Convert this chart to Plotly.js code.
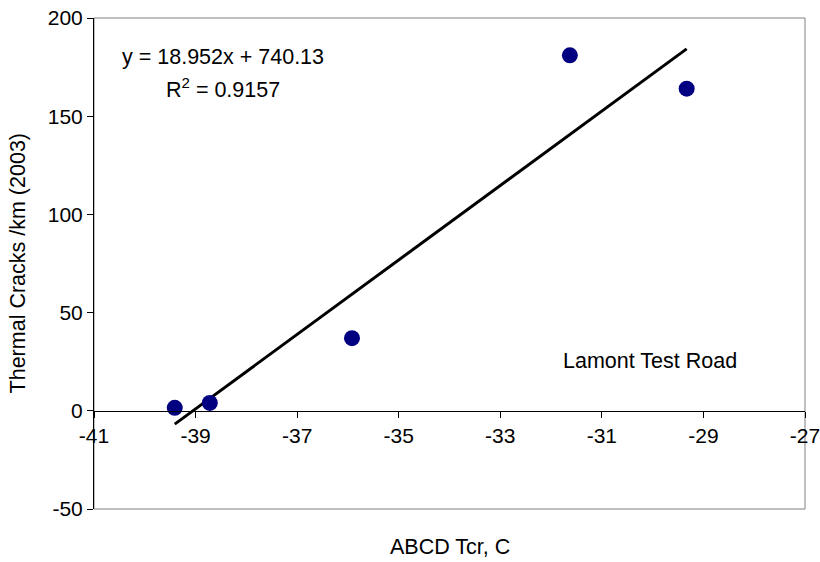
<!DOCTYPE html>
<html>
<head>
<meta charset="utf-8">
<script src="https://cdn.plot.ly/plotly-3.0.1.min.js"></script>
<style>
  html, body { margin: 0; padding: 0; background: #fff; }
  #chart { width: 820px; height: 562px; }
</style>
</head>
<body>
<div id="chart"></div>
<script>
// Measured sections: critical cracking temperature vs. thermal cracks per km
const tcrValues = [-39.41, -38.72, -35.92, -31.63, -29.33];
const cracksPerKm = [1.5, 4, 37, 181, 164];

// Linear fit reported on the chart
const fitSlope = 18.952;
const fitIntercept = 740.13;
const fitR2 = 0.9157;

const xTickValues = [-41, -39, -37, -35, -33, -31, -29, -27];
const yTickValues = [-50, 0, 50, 100, 150, 200];

const xMin = Math.min(...tcrValues);
const xMax = Math.max(...tcrValues);
const fitX = [xMin, xMax];
const fitY = fitX.map(x => fitSlope * x + fitIntercept);

const fontFamily = 'Arial, "Liberation Sans", sans-serif';
const labelSize = 21.5;
const tickSize = 21;

const traces = [
  {
    x: fitX,
    y: fitY,
    mode: 'lines',
    line: { color: '#000000', width: 3 },
    hoverinfo: 'skip',
    showlegend: false
  },
  {
    x: tcrValues,
    y: cracksPerKm,
    mode: 'markers',
    marker: { color: '#000080', size: 16 },
    showlegend: false
  }
];

const layout = {
  width: 820,
  height: 562,
  margin: { l: 94, r: 15, t: 18, b: 53 },
  paper_bgcolor: '#ffffff',
  plot_bgcolor: '#ffffff',
  font: { family: fontFamily, size: labelSize, color: '#000000' },
  showlegend: false,
  xaxis: {
    range: [-41, -27],
    tickvals: xTickValues,
    ticktext: xTickValues.map(String),
    ticks: 'outside',
    ticklen: 6,
    tickcolor: '#000000',
    showline: true,
    linecolor: '#000000',
    linewidth: 1,
    showgrid: false,
    zeroline: false,
    anchor: 'free',
    position: 0.2,
    ticklabeloverflow: 'allow',
    automargin: false,
    tickfont: { size: tickSize }
  },
  yaxis: {
    range: [-50, 200],
    domain: [0, 1],
    tickvals: yTickValues,
    ticktext: yTickValues.map(String),
    ticks: 'outside',
    ticklen: 6,
    tickcolor: '#000000',
    showline: true,
    linecolor: '#000000',
    linewidth: 1,
    showgrid: false,
    zeroline: false,
    ticklabeloverflow: 'allow',
    automargin: false,
    tickfont: { size: tickSize }
  },
  shapes: [
    {
      type: 'rect', xref: 'paper', yref: 'paper',
      x0: 0, x1: 1, y0: 0, y1: 1,
      line: { color: '#808080', width: 1 },
      layer: 'below'
    }
  ],
  annotations: [
    {
      text: 'y = ' + fitSlope + 'x + ' + fitIntercept.toFixed(2),
      xref: 'paper', yref: 'paper', x: 0.1814, y: 0.9206,
      xanchor: 'center', yanchor: 'middle', showarrow: false,
      font: { size: labelSize }
    },
    {
      text: 'R<sup>2</sup> = ' + fitR2,
      xref: 'paper', yref: 'paper', x: 0.1814, y: 0.8574,
      xanchor: 'center', yanchor: 'middle', showarrow: false,
      font: { size: labelSize }
    },
    {
      text: 'Lamont Test Road',
      xref: 'paper', yref: 'paper', x: 0.782, y: 0.301,
      xanchor: 'center', yanchor: 'middle', showarrow: false,
      font: { size: labelSize }
    },
    {
      text: 'ABCD Tcr, C',
      xref: 'paper', yref: 'paper', x: 0.5, y: -0.0774,
      xanchor: 'center', yanchor: 'middle', showarrow: false,
      font: { size: labelSize }
    },
    {
      text: 'Thermal Cracks /km (2003)',
      xref: 'paper', yref: 'paper', x: -0.107, y: 0.5,
      xanchor: 'center', yanchor: 'middle', showarrow: false,
      textangle: -90,
      font: { size: labelSize }
    }
  ]
};

Plotly.newPlot('chart', traces, layout, { displayModeBar: false, staticPlot: true });
</script>
</body>
</html>
